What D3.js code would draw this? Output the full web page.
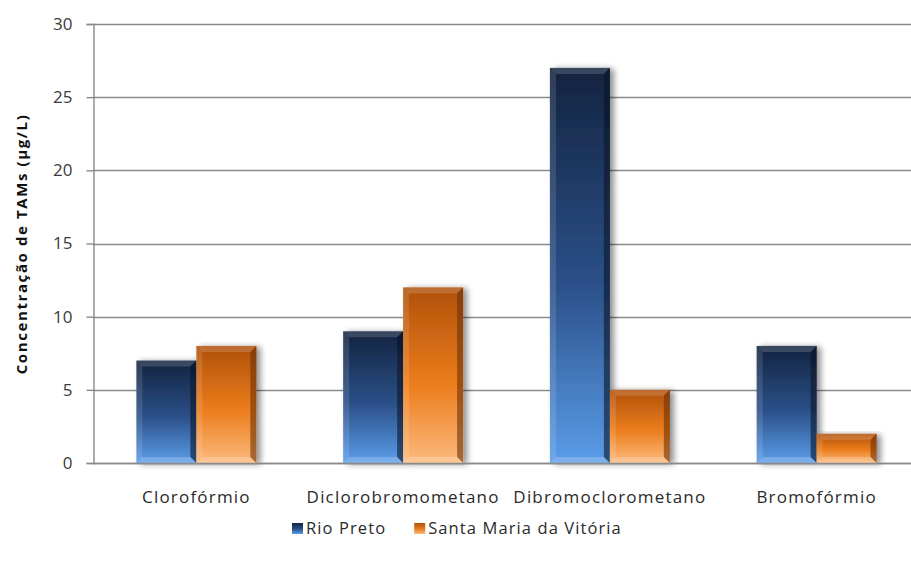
<!DOCTYPE html>
<html>
<head>
<meta charset="utf-8">
<script src="https://cdn.jsdelivr.net/npm/d3@7"></script>
<style>
  html, body { margin: 0; padding: 0; background: #fff; }
  svg { display: block; font-family: "Open Sans", "DejaVu Sans", sans-serif; }
</style>
</head>
<body>
<svg id="chart" width="911" height="563"></svg>
<script>
// Trihalomethane concentrations by sampling site
const categories = ["Clorofórmio", "Diclorobromometano", "Dibromoclorometano", "Bromofórmio"];
const seriesNames = ["Rio Preto", "Santa Maria da Vitória"];
const rioPreto = [7, 9, 27, 8];
const santaMaria = [8, 12, 5, 2];
const yTicks = [0, 5, 10, 15, 20, 25, 30];
const yTitle = "Concentração de TAMs  (µg/L)";

const seriesValues = [rioPreto, santaMaria];

const svg = d3.select("#chart");
const margin = { left: 93, right: -9, top: 24, bottom: 100 };
const W = 911, H = 563;
const plotBottom = H - margin.bottom;

const x0 = d3.scaleBand().domain(categories).range([margin.left, W - margin.right]).paddingInner(0.42).paddingOuter(0.21);
const x1 = d3.scaleBand().domain(seriesNames).range([0, x0.bandwidth()]);
const y = d3.scaleLinear().domain([0, 30]).range([plotBottom, margin.top]);

const defs = svg.append("defs");
const palettes = {
  "Rio Preto": { top: "#13233f", mid: "#2b5089", bot: "#5b9de9", side: "#0b1628" },
  "Santa Maria da Vitória": { top: "#b0500a", mid: "#ec7d1c", bot: "#fcba7e", side: "#6a3207" }
};
seriesNames.forEach((s, i) => {
  const p = palettes[s];
  const g = defs.append("linearGradient").attr("id", "grad" + i).attr("x1", 0).attr("y1", 0).attr("x2", 0).attr("y2", 1);
  g.append("stop").attr("offset", "0%").attr("stop-color", p.top);
  g.append("stop").attr("offset", "55%").attr("stop-color", p.mid);
  g.append("stop").attr("offset", "100%").attr("stop-color", p.bot);
});
const shadow = defs.append("filter").attr("id", "shadow").attr("x", "-20%").attr("y", "-10%").attr("width", "150%").attr("height", "130%");
shadow.append("feGaussianBlur").attr("in", "SourceAlpha").attr("stdDeviation", 3);
shadow.append("feOffset").attr("dx", 4).attr("dy", 1).attr("result", "b");
shadow.append("feComponentTransfer").append("feFuncA").attr("type", "linear").attr("slope", 0.45);
const merge = shadow.append("feMerge");
merge.append("feMergeNode");
merge.append("feMergeNode").attr("in", "SourceGraphic");

// Gridlines
svg.append("g").selectAll("line").data(yTicks).join("line")
  .attr("x1", margin.left).attr("x2", W)
  .attr("y1", d => Math.round(y(d)) + 0.5).attr("y2", d => Math.round(y(d)) + 0.5)
  .attr("stroke", "#8a8a8a").attr("stroke-width", 1.4);

// Y axis
const yAxis = svg.append("g").attr("transform", `translate(${margin.left + 0.5},0)`)
  .call(d3.axisLeft(y).tickValues(yTicks).tickSize(7).tickPadding(14));
yAxis.select(".domain").attr("stroke", "#8a8a8a").attr("stroke-width", 1.4);
yAxis.selectAll(".tick line").attr("stroke", "#8a8a8a").attr("stroke-width", 1.4);
yAxis.selectAll(".tick text").attr("font-size", 17).attr("fill", "#3a3a3a")
  .attr("font-family", "'Open Sans', sans-serif");

// Bars
const bevel = 6;
categories.forEach((c, ci) => {
  seriesNames.forEach((s, si) => {
    const v = seriesValues[si][ci];
    const bx = x0(c) + x1(s), bw = x1.bandwidth();
    const by = y(v), bh = y(0) - y(v);
    const b = Math.min(bevel, bh / 2);
    const g = svg.append("g").attr("filter", "url(#shadow)");
    g.append("rect").attr("x", bx).attr("y", by).attr("width", bw).attr("height", bh)
      .attr("fill", `url(#grad${si})`);
    // bevel faces
    const pts = a => a.map(p => p.join(",")).join(" ");
    const L = bx, R = bx + bw, T = by, B = by + bh;
    g.append("polygon").attr("points", pts([[L, T], [R, T], [R - b, T + b], [L + b, T + b]]))
      .attr("fill", "#fff").attr("opacity", 0.16);
    g.append("polygon").attr("points", pts([[L, T], [L + b, T + b], [L + b, B - b], [L, B]]))
      .attr("fill", "#fff").attr("opacity", 0.12);
    g.append("polygon").attr("points", pts([[R, T], [R, B], [R - b, B - b], [R - b, T + b]]))
      .attr("fill", palettes[s].side).attr("opacity", 0.6);
    g.append("polygon").attr("points", pts([[L, B], [L + b, B - b], [R - b, B - b], [R, B]]))
      .attr("fill", "#fff").attr("opacity", 0.2);
  });
});

// Baseline redraw over bars' shadows
svg.append("line").attr("x1", margin.left).attr("x2", W)
  .attr("y1", Math.round(y(0)) + 0.5).attr("y2", Math.round(y(0)) + 0.5)
  .attr("stroke", "#8a8a8a").attr("stroke-width", 1.4);

// Category labels
svg.append("g").selectAll("text").data(categories).join("text")
  .attr("x", d => x0(d) + x0.bandwidth() / 2).attr("y", 503)
  .attr("text-anchor", "middle").attr("font-size", 17).attr("letter-spacing", 1.2)
  .attr("fill", "#2a2a2a")
  .text(d => d);

// Y axis title
svg.append("text").attr("transform", `translate(27,244) rotate(-90)`)
  .attr("text-anchor", "middle").attr("font-size", 15).attr("font-weight", "bold")
  .attr("letter-spacing", 1.6).attr("fill", "#111").text(yTitle);

// Legend
const legend = svg.append("g").attr("transform", "translate(292,529)");
let lx = 0;
seriesNames.forEach((s, i) => {
  const item = legend.append("g").attr("transform", `translate(${lx},0)`);
  item.append("rect").attr("x", 0).attr("y", -6).attr("width", 11).attr("height", 11)
    .attr("fill", `url(#grad${i})`);
  const t = item.append("text").attr("x", 14).attr("y", 5).attr("font-size", 16.5)
    .attr("letter-spacing", 1.1).attr("fill", "#2a2a2a").text(s);
  lx += 14 + t.node().getComputedTextLength() + 28;
});
</script>
</body>
</html>
